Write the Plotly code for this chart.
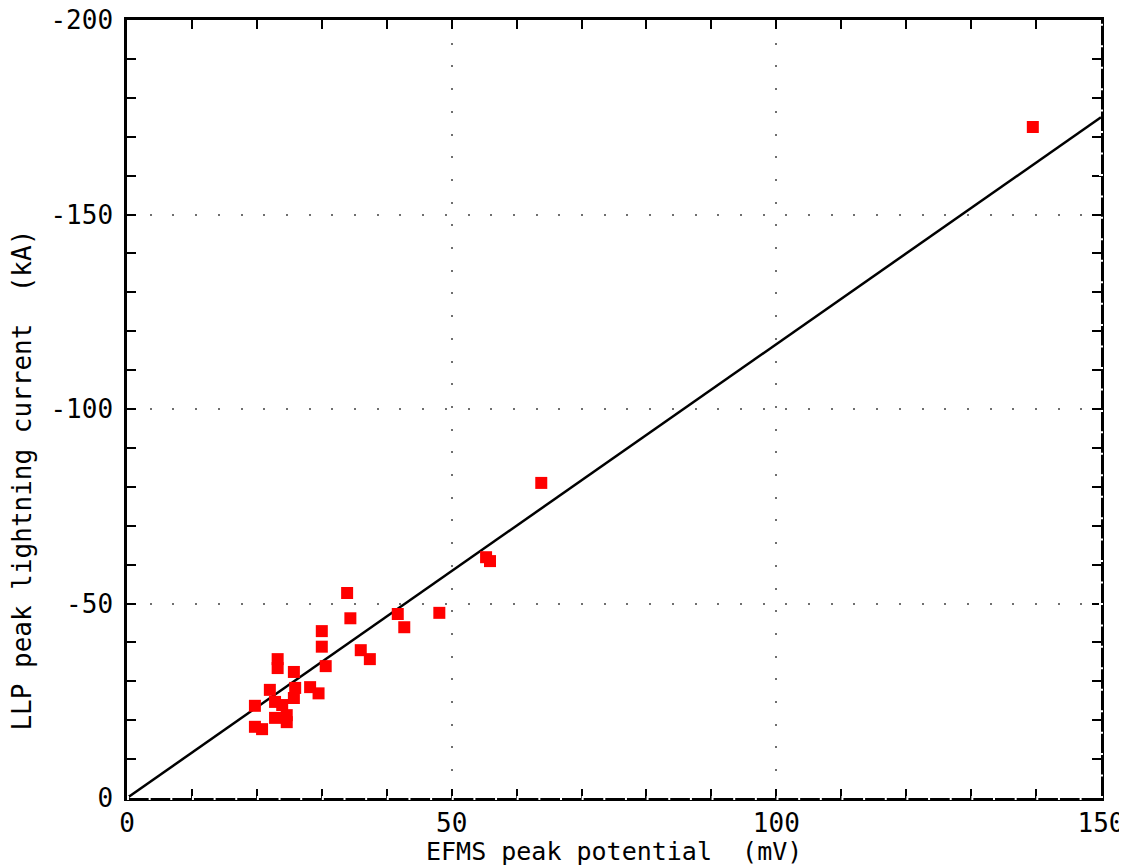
import plotly.graph_objects as go

# Data
efms_mv = [139.5, 63.8, 55.3, 55.9, 33.9, 34.4, 41.7, 42.7, 48.1, 36.0,
           37.4, 30.0, 30.0, 30.6, 29.5, 28.2, 23.2, 23.2, 25.7, 22.0,
           25.9, 25.7, 19.7, 22.8, 23.9, 24.6, 22.8, 24.6, 19.7, 20.8]
llp_ka = [-172.5, -81.0, -61.9, -60.9, -52.7, -46.2, -47.3, -43.9, -47.6, -38.0,
          -35.7, -42.9, -38.9, -33.9, -26.9, -28.5, -35.7, -33.4, -32.4, -27.8,
          -28.3, -25.7, -23.7, -24.7, -23.9, -21.3, -20.6, -19.5, -18.3, -17.7]

fit_x = [0, 150]
fit_y = [0, -175]

x_tickvals = [0, 50, 100, 150]
x_ticktext = ["0", "50", "100", "150"]
y_tickvals = [0, -50, -100, -150, -200]
y_ticktext = ["0", "-50", "-100", "-150", "-200"]

FONT = "DejaVu Sans Mono"

fig = go.Figure()
fig.add_trace(go.Scatter(x=fit_x, y=fit_y, mode="lines",
                         line=dict(color="black", width=2.5),
                         showlegend=False, hoverinfo="skip"))
fig.add_trace(go.Scatter(x=efms_mv, y=llp_ka, mode="markers",
                         marker=dict(symbol="square", size=12, color="#ff0000",
                                     line=dict(width=0)),
                         showlegend=False))

axis_common = dict(
    showline=True, linecolor="black", linewidth=2.5, mirror="ticks",
    ticks="inside", ticklen=9, tickwidth=2, tickcolor="black",
    showgrid=True, gridcolor="#6f6f6f", gridwidth=2, griddash="2px,20.7px",
    zeroline=False, automargin=False, ticklabeloverflow="allow",
    tickfont=dict(family=FONT, size=26, color="black"),
    minor=dict(ticks="inside", dtick=10, ticklen=9, tickwidth=2,
               tickcolor="black", showgrid=False),
)

fig.update_xaxes(range=[0, 150], tickvals=x_tickvals, ticktext=x_ticktext,
                 ticklabelstandoff=0, **axis_common)
fig.update_yaxes(range=[0, -200], tickvals=y_tickvals, ticktext=y_ticktext,
                 ticklabelstandoff=6, **axis_common)

# small gaps in the bottom and right frame lines, as in the reference
fig.add_shape(type="line", xref="paper", yref="paper", x0=0, x1=1, y0=0, y1=0,
              line=dict(color="white", width=4, dash="2px,19.65px"), layer="above")
fig.add_shape(type="line", xref="paper", yref="paper", x0=1, x1=1, y0=0, y1=1,
              line=dict(color="white", width=4, dash="2px,19.45px"), layer="above")

fig.add_annotation(text="EFMS peak potential  (mV)", xref="paper", yref="paper",
                   x=0.5, y=-0.069, xanchor="center", yanchor="middle",
                   showarrow=False, font=dict(family=FONT, size=25, color="black"))
fig.add_annotation(text="LLP peak lightning current  (kA)", xref="paper", yref="paper",
                   x=-0.108, y=0.409, xanchor="center", yanchor="middle", textangle=-90,
                   showarrow=False, font=dict(family=FONT, size=26, color="black"))

# page body adds an 8px offset; size the figure so the plot area lands as in the reference
fig.update_layout(
    width=1119, height=860,
    margin=dict(l=119, r=26, t=12, b=70),
    plot_bgcolor="white", paper_bgcolor="white",
)

fig.write_html("out.html")
